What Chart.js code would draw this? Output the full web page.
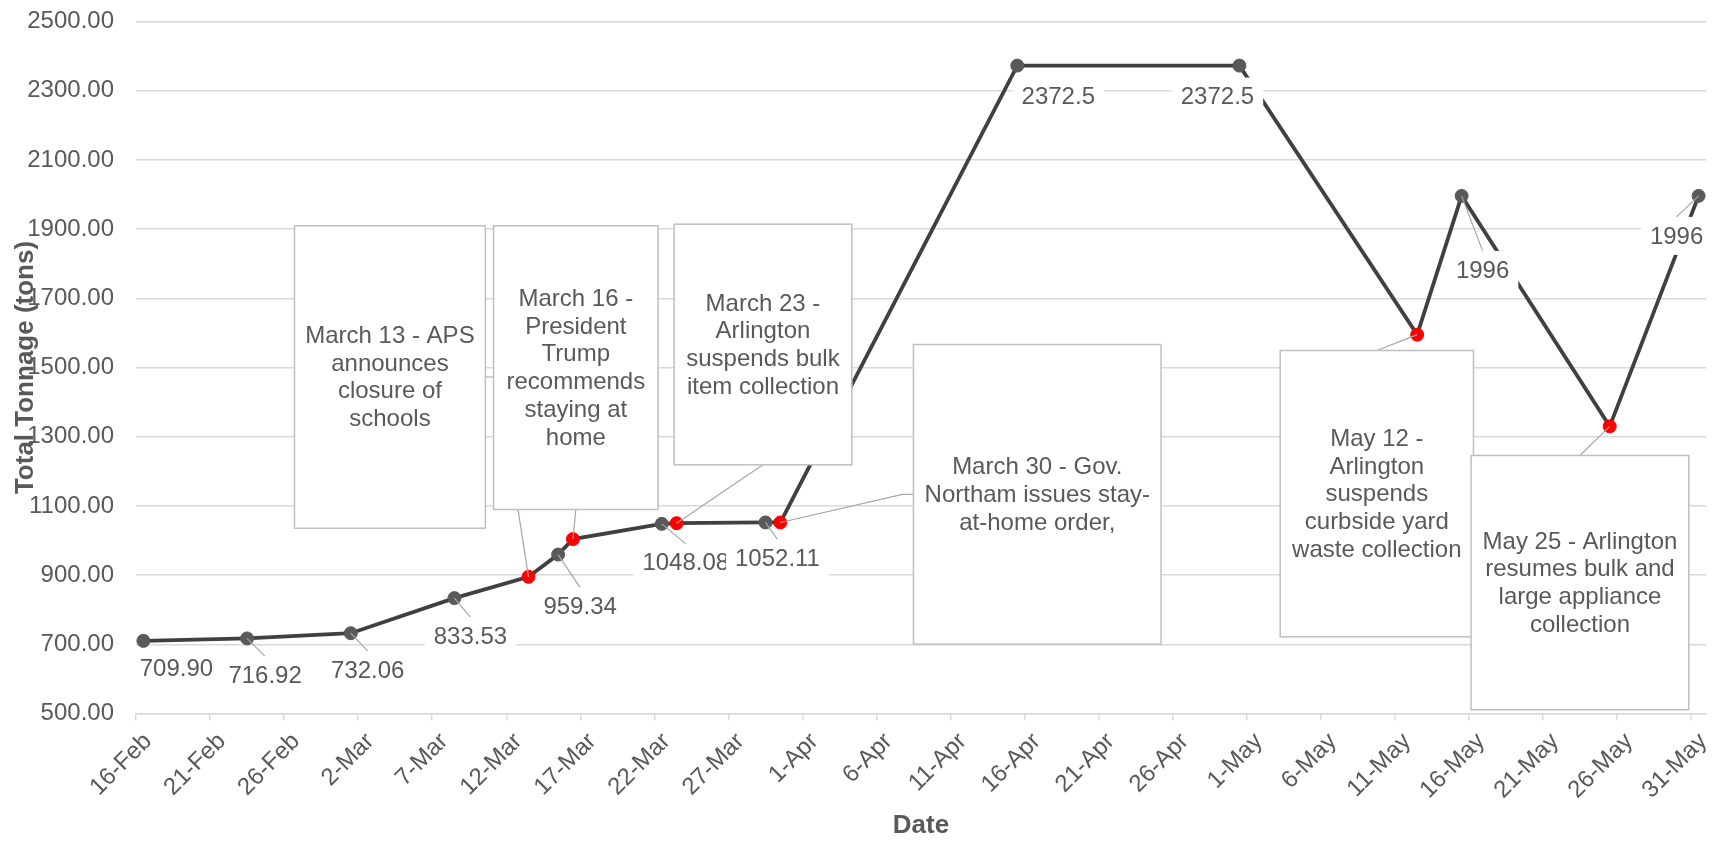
<!DOCTYPE html>
<html>
<head>
<meta charset="utf-8">
<title>Total Tonnage</title>
<script src="https://cdn.jsdelivr.net/npm/chart.js@4.4.1/dist/chart.umd.min.js"></script>
<style>
  html, body { margin: 0; padding: 0; background: #fff; }
  canvas { display: block; }
</style>
</head>
<body>
<canvas id="chart" width="1719" height="841"></canvas>
<script>
// readings (2020), red ones are the dates of the events below
const dates = ['2020-02-16', '2020-02-23', '2020-03-01', '2020-03-08', '2020-03-13', '2020-03-15',
  '2020-03-16', '2020-03-22', '2020-03-23', '2020-03-29', '2020-03-30', '2020-04-15',
  '2020-04-30', '2020-05-12', '2020-05-15', '2020-05-25', '2020-05-31'];
const tonnage = [709.90, 716.92, 732.06, 833.53, 895, 959.34, 1004, 1048.08, 1050, 1052.11, 1052,
  2372.5, 2372.5, 1595, 1996, 1330, 1996];
const isEvent = [false, false, false, false, true, false, true, false, true, false, true,
  false, false, true, false, true, false];
const valueLabels = ['709.90', '716.92', '732.06', '833.53', null, '959.34', null, '1048.08', null,
  '1052.11', null, '2372.5', '2372.5', null, '1996', null, '1996'];

const axisStart = '2020-02-16';
const axisDays = 106;
const tickEvery = 5;
const yMin = 500, yMax = 2500, yStep = 200;

const eventTexts = [
  ['March 13 - APS', 'announces', 'closure of', 'schools'],
  ['March 16 -', 'President', 'Trump', 'recommends', 'staying at', 'home'],
  ['March 23 -', 'Arlington', 'suspends bulk', 'item collection'],
  ['March 30 - Gov.', 'Northam issues stay-', 'at-home order,'],
  ['May 12 -', 'Arlington', 'suspends', 'curbside yard', 'waste collection'],
  ['May 25 - Arlington', 'resumes bulk and', 'large appliance', 'collection']
];

// layout of the note boxes: [dayLeft, dayRight, tonsTop, tonsBottom], which point, where the leader leaves
const noteBoxes = [
  { box: [10.7, 23.59, 1909.5, 1035.5], point: 4, side: 'right' },
  { box: [24.14, 35.25, 1909.5, 1089.6], point: 6, side: 'bottom' },
  { box: [36.33, 48.33, 1914.2, 1218.8], point: 8, side: 'bottom' },
  { box: [52.49, 69.21, 1566.5, 700.3], point: 10, side: 'left' },
  { box: [77.25, 90.30, 1549.1, 721.7], point: 13, side: 'top' },
  { box: [90.14, 104.84, 1245.7, 510.7], point: 15, side: 'top' }
];
// value label placement relative to its point: [dx, dy, leader]
const labelOffsets = [[33, 28, false], [18, 37, true], [17, 37, true], [16, 38, true], null, [22, 52, true],
  null, [24, 39, true], null, [12, 36, true], null, [41, 31, false], [-22, 31, false], null,
  [21, 74, true], null, [-22, 40, true]];

const MONTHS = ['Jan', 'Feb', 'Mar', 'Apr', 'May', 'Jun', 'Jul', 'Aug', 'Sep', 'Oct', 'Nov', 'Dec'];
const DAY = 86400000;
const startMs = Date.parse(axisStart);
const dayIndex = d => Math.round((Date.parse(d) - startMs) / DAY);

const FONT = '"Liberation Sans", Arial, sans-serif';
const TEXT = '#595959';

const notesPlugin = {
  id: 'notes',
  afterDatasetsDraw(chart) {
    const { ctx, scales: { x, y } } = chart;
    const meta = chart.getDatasetMeta(0);
    ctx.save();
    ctx.font = '24px ' + FONT;
    ctx.textAlign = 'center';
    ctx.textBaseline = 'middle';
    ctx.lineWidth = 1.2;
    ctx.strokeStyle = '#A6A6A6';

    // value labels
    valueLabels.forEach((txt, i) => {
      if (!txt) return;
      const p = meta.data[i];
      const [dx, dy, leader] = labelOffsets[i];
      const cx = p.x + dx, cy = p.y + dy;
      const w = ctx.measureText(txt).width + 18, h = 38;
      if (leader) {
        ctx.beginPath();
        ctx.moveTo(p.x, p.y);
        ctx.lineTo(cx, cy - h / 2);
        ctx.stroke();
      }
      ctx.fillStyle = '#fff';
      ctx.fillRect(cx - w / 2, cy - h / 2, w, h);
      ctx.fillStyle = TEXT;
      ctx.fillText(txt, cx, cy + 1);
    });

    // note boxes: leaders first, boxes on top
    const rects = noteBoxes.map(n => {
      const l = x.getPixelForValue(n.box[0]), r = x.getPixelForValue(n.box[1]);
      const t = y.getPixelForValue(n.box[2]), b = y.getPixelForValue(n.box[3]);
      return { l, r, t, b };
    });
    noteBoxes.forEach((n, i) => {
      const p = meta.data[n.point];
      const { l, r, t, b } = rects[i];
      const mx = (l + r) / 2, my = (t + b) / 2;
      ctx.beginPath();
      if (n.side === 'right') {
        ctx.moveTo(r, my); ctx.lineTo(r + 12, my);
      } else if (n.side === 'left') {
        ctx.moveTo(l, my); ctx.lineTo(l - 11, my);
      } else if (n.side === 'top') {
        ctx.moveTo(mx, t);
      } else {
        ctx.moveTo(mx, b);
      }
      ctx.lineTo(p.x, p.y);
      ctx.stroke();
    });
    noteBoxes.forEach((n, i) => {
      const { l, r, t, b } = rects[i];
      ctx.fillStyle = '#fff';
      ctx.fillRect(l, t, r - l, b - t);
      ctx.strokeStyle = '#BFBFBF';
      ctx.lineWidth = 1.5;
      ctx.strokeRect(l, t, r - l, b - t);
      const lines = eventTexts[i];
      const lh = 27.7;
      const cy = (t + b) / 2 - (lines.length - 1) * lh / 2;
      ctx.fillStyle = TEXT;
      lines.forEach((s, k) => ctx.fillText(s, (l + r) / 2, cy + k * lh + 1));
    });
    ctx.restore();
  }
};

new Chart(document.getElementById('chart'), {
  type: 'line',
  data: {
    datasets: [{
      data: dates.map((d, i) => ({ x: dayIndex(d) + 0.5, y: tonnage[i] })),
      borderColor: '#404040',
      borderWidth: 3.8,
      tension: 0,
      pointRadius: 6.5,
      pointBorderWidth: 1,
      pointBackgroundColor: isEvent.map(e => e ? '#FF0000' : '#595959'),
      pointBorderColor: isEvent.map(e => e ? '#FF0000' : '#595959'),
      clip: false
    }]
  },
  options: {
    responsive: false,
    animation: false,
    events: [],
    layout: { padding: { top: 21.5, right: 13, left: 0, bottom: 0 } },
    plugins: {
      legend: { display: false },
      tooltip: { enabled: false }
    },
    scales: {
      x: {
        type: 'linear',
        min: 0,
        max: axisDays,
        afterBuildTicks: scale => {
          const t = [];
          for (let v = 0; v < axisDays; v += tickEvery) t.push({ value: v });
          scale.ticks = t;
        },
        afterFit: scale => {
          scale.height = 127.5;
          scale.paddingLeft = 0;
          scale.paddingRight = 0;
        },
        ticks: {
          autoSkip: false,
          maxRotation: 45,
          minRotation: 45,
          labelOffset: 12,
          padding: 7,
          color: TEXT,
          font: { family: FONT, size: 24 },
          callback: v => {
            const d = new Date(startMs + v * DAY);
            return d.getUTCDate() + '-' + MONTHS[d.getUTCMonth()];
          }
        },
        grid: {
          drawOnChartArea: false,
          drawTicks: true,
          tickLength: 7,
          color: '#D9D9D9',
          lineWidth: 1.5
        },
        border: { color: '#D9D9D9', width: 1.5 },
        title: {
          display: true,
          text: 'Date',
          color: TEXT,
          font: { family: FONT, size: 26, weight: 'bold' },
          padding: { top: 0, bottom: 0 }
        }
      },
      y: {
        min: yMin,
        max: yMax,
        afterFit: scale => {
          scale.width = 136;
          scale.paddingTop = 0;
          scale.paddingBottom = 0;
        },
        ticks: {
          stepSize: yStep,
          padding: 22,
          color: TEXT,
          font: { family: FONT, size: 24 },
          callback: v => v.toFixed(2)
        },
        grid: { color: '#D9D9D9', lineWidth: 1.5, drawTicks: false },
        border: { display: false },
        title: {
          display: true,
          text: 'Total Tonnage (tons)',
          color: TEXT,
          font: { family: FONT, size: 26, weight: 'bold' },
          padding: { top: 10, bottom: 0 }
        }
      }
    }
  },
  plugins: [notesPlugin]
});
</script>
</body>
</html>
